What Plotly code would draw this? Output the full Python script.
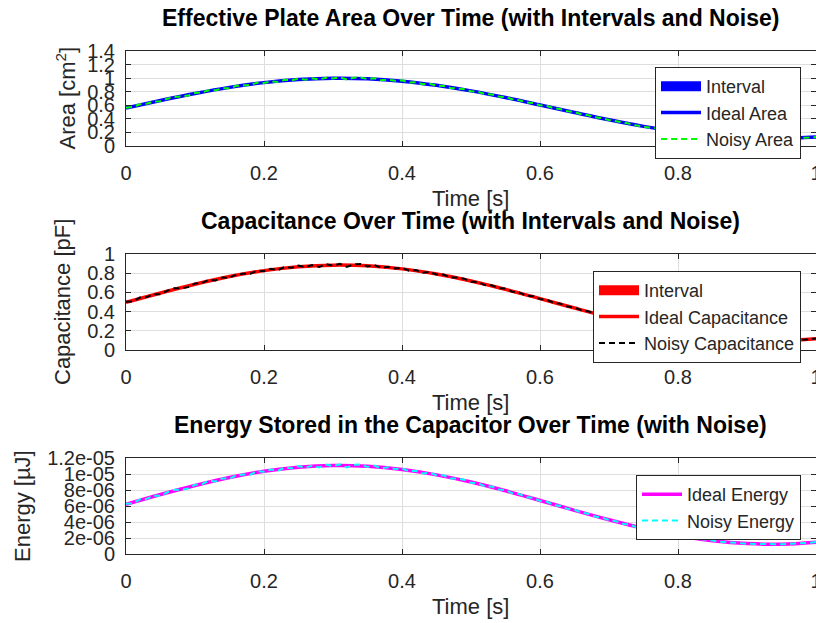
import plotly.graph_objects as go

# ---------------- data ----------------
time_ideal = [0.00, 0.05, 0.10, 0.15, 0.20, 0.25, 0.30, 0.35, 0.40, 0.45, 0.50,
              0.55, 0.60, 0.65, 0.70, 0.75, 0.80, 0.85, 0.90, 0.95, 1.00]

time_noisy = [0.00, 0.01, 0.02, 0.03, 0.04, 0.05, 0.06, 0.07, 0.08, 0.09,
              0.10, 0.11, 0.12, 0.13, 0.14, 0.15, 0.16, 0.17, 0.18, 0.19,
              0.20, 0.21, 0.22, 0.23, 0.24, 0.25, 0.26, 0.27, 0.28, 0.29,
              0.30, 0.31, 0.32, 0.33, 0.34, 0.35, 0.36, 0.37, 0.38, 0.39,
              0.40, 0.41, 0.42, 0.43, 0.44, 0.45, 0.46, 0.47, 0.48, 0.49,
              0.50, 0.51, 0.52, 0.53, 0.54, 0.55, 0.56, 0.57, 0.58, 0.59,
              0.60, 0.61, 0.62, 0.63, 0.64, 0.65, 0.66, 0.67, 0.68, 0.69,
              0.70, 0.71, 0.72, 0.73, 0.74, 0.75, 0.76, 0.77, 0.78, 0.79,
              0.80, 0.81, 0.82, 0.83, 0.84, 0.85, 0.86, 0.87, 0.88, 0.89,
              0.90, 0.91, 0.92, 0.93, 0.94, 0.95, 0.96, 0.97, 0.98, 0.99, 1.00]

area_ideal = [0.561, 0.671, 0.774, 0.864, 0.934, 0.980, 0.999, 0.991, 0.955, 0.894, 0.812,
              0.714, 0.605, 0.494, 0.386, 0.289, 0.209, 0.150, 0.117, 0.111, 0.133]
area_lower = [0.551, 0.661, 0.764, 0.854, 0.924, 0.970, 0.989, 0.981, 0.945, 0.884, 0.802,
              0.704, 0.595, 0.484, 0.376, 0.279, 0.199, 0.140, 0.107, 0.101, 0.123]
area_upper = [0.571, 0.681, 0.784, 0.874, 0.944, 0.990, 1.009, 1.001, 0.965, 0.904, 0.822,
              0.724, 0.615, 0.504, 0.396, 0.299, 0.219, 0.160, 0.127, 0.121, 0.143]
area_noisy = [0.565, 0.577, 0.614, 0.624, 0.656, 0.661, 0.697, 0.723, 0.729, 0.743,
              0.780, 0.791, 0.822, 0.822, 0.851, 0.852, 0.887, 0.896, 0.899, 0.933,
              0.929, 0.952, 0.943, 0.975, 0.969, 0.993, 0.977, 0.997, 0.981, 1.007,
              0.996, 1.012, 0.979, 1.006, 1.010, 0.985, 0.997, 0.970, 0.979, 0.961,
              0.967, 0.937, 0.939, 0.911, 0.917, 0.891, 0.886, 0.855, 0.851, 0.838,
              0.806, 0.799, 0.766, 0.760, 0.731, 0.721, 0.688, 0.675, 0.643, 0.632,
              0.602, 0.589, 0.556, 0.542, 0.512, 0.499, 0.469, 0.454, 0.423, 0.410,
              0.384, 0.369, 0.343, 0.328, 0.303, 0.292, 0.270, 0.258, 0.236, 0.225,
              0.207, 0.197, 0.181, 0.172, 0.158, 0.151, 0.140, 0.135, 0.126, 0.122,
              0.115, 0.115, 0.112, 0.109, 0.112, 0.110, 0.115, 0.116, 0.123, 0.125, 0.134]

cap_ideal = [0.496, 0.594, 0.685, 0.765, 0.827, 0.867, 0.884, 0.877, 0.845, 0.791, 0.719,
             0.632, 0.535, 0.437, 0.342, 0.256, 0.185, 0.133, 0.104, 0.098, 0.118]
cap_lower = [0.487, 0.585, 0.676, 0.756, 0.818, 0.858, 0.875, 0.868, 0.836, 0.782, 0.710,
             0.623, 0.526, 0.428, 0.333, 0.247, 0.176, 0.124, 0.095, 0.089, 0.109]
cap_upper = [0.505, 0.603, 0.694, 0.774, 0.836, 0.876, 0.893, 0.886, 0.854, 0.800, 0.728,
             0.641, 0.544, 0.446, 0.351, 0.265, 0.194, 0.142, 0.113, 0.107, 0.127]
cap_noisy = [0.502, 0.507, 0.546, 0.551, 0.582, 0.582, 0.618, 0.642, 0.643, 0.655,
             0.693, 0.698, 0.731, 0.725, 0.756, 0.752, 0.787, 0.794, 0.793, 0.828,
             0.821, 0.845, 0.832, 0.865, 0.856, 0.880, 0.863, 0.884, 0.866, 0.893,
             0.880, 0.897, 0.866, 0.892, 0.896, 0.870, 0.884, 0.856, 0.868, 0.849,
             0.857, 0.827, 0.833, 0.805, 0.813, 0.787, 0.786, 0.755, 0.755, 0.743,
             0.712, 0.709, 0.676, 0.674, 0.645, 0.640, 0.607, 0.599, 0.567, 0.561,
             0.531, 0.523, 0.490, 0.481, 0.452, 0.443, 0.414, 0.403, 0.374, 0.364,
             0.339, 0.327, 0.303, 0.292, 0.268, 0.259, 0.239, 0.229, 0.209, 0.199,
             0.183, 0.175, 0.160, 0.152, 0.140, 0.134, 0.124, 0.120, 0.111, 0.108,
             0.102, 0.102, 0.099, 0.096, 0.099, 0.097, 0.102, 0.103, 0.109, 0.111, 0.119]

energy_ideal = [6.20e-6, 7.43e-6, 8.56e-6, 9.56e-6, 1.034e-5, 1.084e-5, 1.105e-5, 1.096e-5,
                1.056e-5, 9.89e-6, 8.99e-6, 7.90e-6, 6.69e-6, 5.46e-6, 4.28e-6, 3.20e-6,
                2.31e-6, 1.66e-6, 1.30e-6, 1.23e-6, 1.48e-6]
energy_noisy = [6.28e-6, 6.33e-6, 6.83e-6, 6.89e-6, 7.29e-6, 7.28e-6, 7.72e-6, 8.03e-6, 8.04e-6, 8.18e-6,
                8.66e-6, 8.73e-6, 9.14e-6, 9.07e-6, 9.45e-6, 9.40e-6, 9.84e-6, 9.93e-6, 9.91e-6, 1.035e-5,
                1.027e-5, 1.057e-5, 1.039e-5, 1.082e-5, 1.070e-5, 1.100e-5, 1.078e-5, 1.105e-5, 1.082e-5, 1.117e-5,
                1.100e-5, 1.121e-5, 1.083e-5, 1.115e-5, 1.120e-5, 1.087e-5, 1.105e-5, 1.070e-5, 1.085e-5, 1.062e-5,
                1.071e-5, 1.034e-5, 1.041e-5, 1.006e-5, 1.016e-5, 9.84e-6, 9.83e-6, 9.44e-6, 9.44e-6, 9.29e-6,
                8.90e-6, 8.86e-6, 8.45e-6, 8.43e-6, 8.07e-6, 8.00e-6, 7.59e-6, 7.49e-6, 7.09e-6, 7.01e-6,
                6.64e-6, 6.53e-6, 6.13e-6, 6.01e-6, 5.65e-6, 5.53e-6, 5.18e-6, 5.04e-6, 4.68e-6, 4.55e-6,
                4.24e-6, 4.09e-6, 3.79e-6, 3.65e-6, 3.35e-6, 3.24e-6, 2.98e-6, 2.87e-6, 2.61e-6, 2.49e-6,
                2.28e-6, 2.19e-6, 1.99e-6, 1.91e-6, 1.75e-6, 1.68e-6, 1.54e-6, 1.50e-6, 1.39e-6, 1.36e-6,
                1.28e-6, 1.27e-6, 1.24e-6, 1.20e-6, 1.23e-6, 1.22e-6, 1.27e-6, 1.29e-6, 1.36e-6, 1.39e-6, 1.49e-6]

x_ticks = [0, 0.2, 0.4, 0.6, 0.8, 1.0]
area_ticks = [0, 0.2, 0.4, 0.6, 0.8, 1.0, 1.2, 1.4]
cap_ticks = [0, 0.2, 0.4, 0.6, 0.8, 1.0]
energy_ticks = [0, 2e-6, 4e-6, 6e-6, 8e-6, 1e-5, 1.2e-5]
energy_tick_labels = ["0", "2e-06", "4e-06", "6e-06", "8e-06", "1e-05", "1.2e-05"]

titles = ["Effective Plate Area Over Time (with Intervals and Noise)",
          "Capacitance Over Time (with Intervals and Noise)",
          "Energy Stored in the Capacitor Over Time (with Noise)"]
y_labels = ["Area [cm<sup>2</sup>]", "Capacitance [pF]", "Energy [µJ]"]
x_label = "Time [s]"

# ---------------- layout geometry (pixels) ----------------
W, H = 816, 623
FONT = "Liberation Sans, Arial, Helvetica, sans-serif"
AX = "#262626"
GRID = "#dedede"
plot_left = 126
panels = [(51, 146), (254, 350), (458, 554)]  # top, bottom in px


def px_x(x):
    return x / W


def px_y(y):
    return 1 - y / H


fig = go.Figure()

# Panel 1: area
fig.add_trace(go.Scatter(x=time_ideal + time_ideal[::-1], y=area_upper + area_lower[::-1],
                         fill="toself", fillcolor="#0000ff", line=dict(width=0, color="#0000ff"),
                         mode="lines", name="Interval", showlegend=False, xaxis="x", yaxis="y",
                         hoverinfo="skip"))
fig.add_trace(go.Scatter(x=[None], y=[None], mode="lines", name="Interval",
                         line=dict(color="#0000ff", width=16), legend="legend",
                         xaxis="x", yaxis="y"))
fig.add_trace(go.Scatter(x=time_ideal, y=area_ideal, mode="lines", name="Ideal Area",
                         line=dict(color="#0000ff", width=3.5, shape="spline"),
                         legend="legend", xaxis="x", yaxis="y"))
fig.add_trace(go.Scatter(x=time_noisy, y=area_noisy, mode="lines", name="Noisy Area",
                         line=dict(color="#00ff00", width=2, dash="6px,4px"),
                         legend="legend", xaxis="x", yaxis="y"))

# Panel 2: capacitance
fig.add_trace(go.Scatter(x=time_ideal + time_ideal[::-1], y=cap_upper + cap_lower[::-1],
                         fill="toself", fillcolor="#ff0000", line=dict(width=0, color="#ff0000"),
                         mode="lines", name="Interval", showlegend=False, xaxis="x2", yaxis="y2",
                         hoverinfo="skip"))
fig.add_trace(go.Scatter(x=[None], y=[None], mode="lines", name="Interval",
                         line=dict(color="#ff0000", width=16), legend="legend2",
                         xaxis="x2", yaxis="y2"))
fig.add_trace(go.Scatter(x=time_ideal, y=cap_ideal, mode="lines", name="Ideal Capacitance",
                         line=dict(color="#ff0000", width=3.5, shape="spline"),
                         legend="legend2", xaxis="x2", yaxis="y2"))
fig.add_trace(go.Scatter(x=time_noisy, y=cap_noisy, mode="lines", name="Noisy Capacitance",
                         line=dict(color="#000000", width=2, dash="6px,4px"),
                         legend="legend2", xaxis="x2", yaxis="y2"))

# Panel 3: energy
fig.add_trace(go.Scatter(x=time_ideal, y=energy_ideal, mode="lines", name="Ideal Energy",
                         line=dict(color="#ff00ff", width=3.5, shape="spline"),
                         legend="legend3", xaxis="x3", yaxis="y3"))
fig.add_trace(go.Scatter(x=time_noisy, y=energy_noisy, mode="lines", name="Noisy Energy",
                         line=dict(color="#00ffff", width=2, dash="6px,4px"),
                         legend="legend3", xaxis="x3", yaxis="y3"))

common_axis = dict(showline=True, linecolor=AX, linewidth=1, mirror="ticks",
                   ticks="inside", ticklen=5, tickcolor=AX, tickwidth=1,
                   showgrid=True, gridcolor=GRID, gridwidth=1, zeroline=False,
                   automargin=False,
                   tickfont=dict(family=FONT, size=20, color=AX))

y_ranges = [[0, 1.4], [0, 1.0], [0, 1.2e-5]]
y_tickvals = [area_ticks, cap_ticks, energy_ticks]

layout = dict(width=W, height=H, margin=dict(l=0, r=0, t=0, b=0, autoexpand=False),
              paper_bgcolor="white", plot_bgcolor="white", showlegend=True,
              font=dict(family=FONT, color="black"))

annotations = []
for i, (top, bot) in enumerate(panels):
    sfx = "" if i == 0 else str(i + 1)
    layout["xaxis" + sfx] = dict(common_axis, domain=[px_x(plot_left), 1.0], range=[0, 1.0],
                                 tickvals=x_ticks, anchor="y" + sfx,
                                 ticklabelstandoff=9, ticklabeloverflow="allow")
    yax = dict(common_axis, domain=[px_y(bot), px_y(top)], range=y_ranges[i],
               tickvals=y_tickvals[i], anchor="x" + sfx, ticklabelstandoff=6)
    if i == 2:
        yax["ticktext"] = energy_tick_labels
    layout["yaxis" + sfx] = yax
    # title
    annotations.append(dict(text="<b>" + titles[i] + "</b>", x=px_x(471), y=px_y(top - 33),
                            xref="paper", yref="paper", xanchor="center", yanchor="middle",
                            showarrow=False, font=dict(family=FONT, size=23, color="black")))
    # x label
    annotations.append(dict(text=x_label, x=px_x(471), y=px_y(bot + 52),
                            xref="paper", yref="paper", xanchor="center", yanchor="middle",
                            showarrow=False, font=dict(family=FONT, size=22, color=AX)))

ylab_x = [65, 63, 23]
for i, (top, bot) in enumerate(panels):
    annotations.append(dict(text=y_labels[i], x=px_x(ylab_x[i]), y=px_y((top + bot) / 2),
                            xref="paper", yref="paper", xanchor="center", yanchor="middle",
                            textangle=-90, showarrow=False,
                            font=dict(family=FONT, size=22, color=AX)))

layout["annotations"] = annotations

legend_common = dict(bgcolor="white", bordercolor=AX, borderwidth=1,
                     font=dict(family=FONT, size=18, color=AX), itemwidth=40,
                     xref="paper", yref="paper", xanchor="right", yanchor="top")
layout["legend"] = dict(legend_common, x=px_x(801), y=px_y(67))
layout["legend2"] = dict(legend_common, x=px_x(801), y=px_y(271))
layout["legend3"] = dict(legend_common, x=px_x(801), y=px_y(475))

fig.update_layout(**layout)
fig.write_html("out.html")
